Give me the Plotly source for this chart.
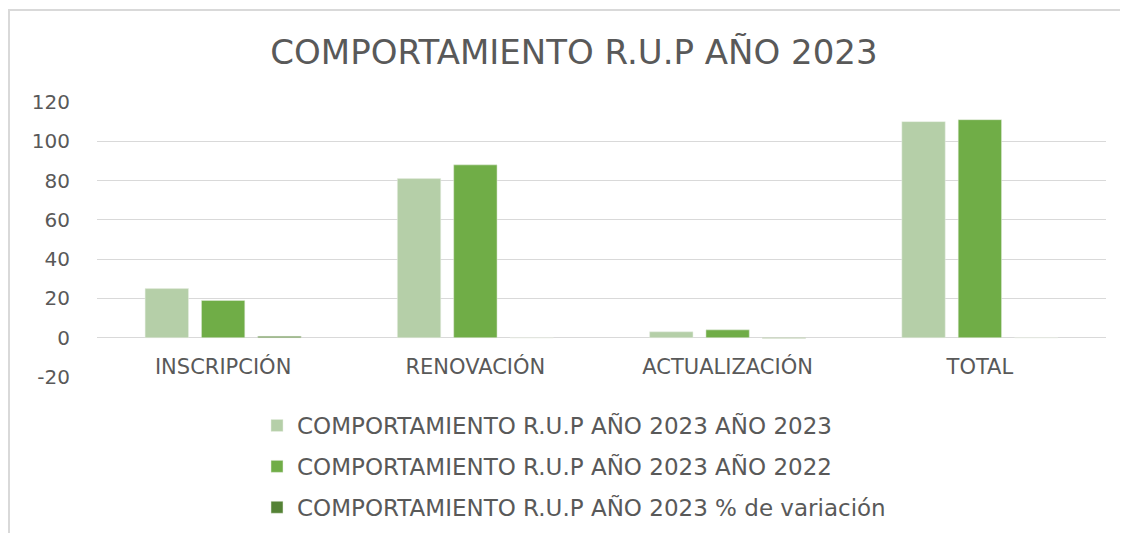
import plotly.graph_objects as go

categories = ["INSCRIPCIÓN", "RENOVACIÓN", "ACTUALIZACIÓN", "TOTAL"]
anio_2023 = [25, 81, 3, 110]
anio_2022 = [19, 88, 4, 111]
variacion = [0.7, -0.08, -0.25, -0.01]

y_ticks = [-20, 0, 20, 40, 60, 80, 100, 120]
y_tick_labels = ["-20", "0", "20", "40", "60", "80", "100", "120"]

series_names = [
    "COMPORTAMIENTO R.U.P AÑO 2023 AÑO 2023",
    "COMPORTAMIENTO R.U.P AÑO 2023 AÑO 2022",
    "COMPORTAMIENTO R.U.P AÑO 2023 % de variación",
]
colors = ["#b5cfa8", "#70ad47", "#548235"]

# page has an 8px body margin, so the figure is a bit smaller than the window
W, H = 1120, 525
L, R, T, B = 89, 22, 94, 156
FONT = "DejaVu Sans, Verdana, sans-serif"
GRAY = "#595959"

fig = go.Figure()
for i, (name, vals) in enumerate(zip(series_names, [anio_2023, anio_2022, variacion])):
    fig.add_trace(
        go.Bar(
            x=categories,
            y=vals,
            name=name,
            marker=dict(color=colors[i], line=dict(color="#e8efe4", width=0.5)),
            legendgroup=f"g{i}",
        )
    )

pw = W - L - R
ph = H - T - B

fig.update_layout(
    width=W,
    height=H,
    margin=dict(l=L, r=R, t=T, b=B, autoexpand=False),
    paper_bgcolor="white",
    plot_bgcolor="white",
    barmode="group",
    bargap=0.33,
    bargroupgap=0.23,
    font=dict(family=FONT, color=GRAY, size=16),
    title=dict(
        text="COMPORTAMIENTO R.U.P AÑO 2023",
        x=(574 - 8) / W,
        xanchor="center",
        y=1 - 44 / H,
        yanchor="middle",
        font=dict(size=34, color=GRAY, family=FONT),
    ),
    legend=dict(
        orientation="v",
        x=(249 - L) / pw,
        xanchor="left",
        y=(H - B - 396) / ph,
        yanchor="top",
        font=dict(size=23, color=GRAY, family=FONT),
        tracegroupgap=8,
        itemwidth=30,
    ),
    showlegend=True,
)

fig.update_yaxes(
    range=[-20, 120],
    tickvals=y_ticks,
    ticktext=y_tick_labels,
    showgrid=True,
    gridcolor="#d9d9d9",
    gridwidth=1,
    zeroline=True,
    zerolinecolor="#d9d9d9",
    zerolinewidth=1,
    showline=False,
    ticks="outside",
    ticklen=22,
    tickcolor="rgba(0,0,0,0)",
    tickfont=dict(size=20, color=GRAY, family=FONT),
)

fig.update_xaxes(
    anchor="free",
    position=20 / 140,
    showline=False,
    showgrid=False,
    ticks="outside",
    ticklen=10,
    tickcolor="rgba(0,0,0,0)",
    tickfont=dict(size=21, color=GRAY, family=FONT),
)

# chart frame (Excel style border)
fig.add_shape(
    type="rect",
    xref="paper",
    yref="paper",
    x0=(1 - L) / pw,
    x1=(W + 20 - L) / pw,
    y0=-(B + 20) / ph,
    y1=(H - B - 2) / ph,
    line=dict(color="#d9d9d9", width=2),
    fillcolor="rgba(0,0,0,0)",
    layer="below",
)

fig.write_html("out.html")
